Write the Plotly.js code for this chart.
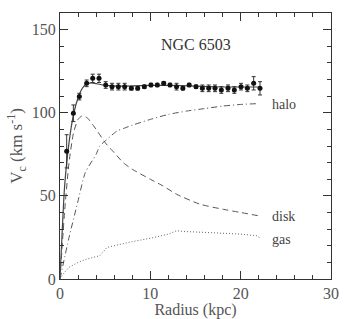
<!DOCTYPE html>
<html><head><meta charset="utf-8">
<script src="https://cdn.plot.ly/plotly-3.0.1.min.js"></script>
<style>body{margin:0;background:#fff}#c{width:354px;height:319px}</style>
</head><body><div id="c"></div>
<script>
const obsR = [0.74,1.48,2.14,2.95,3.62,4.32,5.06,5.76,6.46,7.16,7.9,8.6,9.34,10.07,10.77,11.48,12.18,12.9,13.6,14.3,15.06,15.76,16.46,17.16,17.86,18.6,19.3,20.04,20.74,21.44,22.14];
const obsV = [76.8,99.7,109.7,117.7,120.7,120.7,116.7,115.7,115.7,115.7,114.7,114.7,115.7,116.7,116.7,117.7,116.7,115.7,114.7,116.7,115.7,114.7,114.7,114.7,113.7,114.7,113.7,115.7,114.7,117.7,114.7];
const obsErr = [10,5,2,2,2.5,2.5,2,2,2,2,1,1,1,1,1,1,1,2,1,1,1,2,2,2,2,2,2,2,2,4,4];
const fitR = [0,0.5,1,1.5,2,2.5,3,3.5,4,5,7,10,12,15,18,20,22.2];
const fitV = [0,55,82,99,109,115,117.5,118,117.5,116.5,116,116.5,116.5,116,115.5,115.5,115.5];
const diskR = [0,0.5,1,1.5,2,2.4,3,4,5,6,7,8,10,11.4,12.9,15.5,18,20,22];
const diskV = [0,40,70,88,96,98,97,90,82,76,70,66,60,56,51,45,42,40,38];
const haloR = [0,1,2,2.8,4,4.4,5,6.3,7,8,10,12,14,16,18,20,22];
const haloV = [0,25,47,64,75,80,83,89,90.5,92.5,96,99,101,102.5,104,105,105.5];
const gasR = [0,0.5,1,2,3,4,4.4,5.2,6,8,10,12,12.9,14,16.2,18,20,21.8,22.2];
const gasV = [0,4,7,10,12,13.5,14,19,20,22.5,24.5,27,29,28.5,28,27.5,27,26,24.5];
const labels = ['halo','disk','gas'];
const labelY = [105,37.5,24];
const title = 'NGC 6503';

const dark = '#333';
const FONT = 'Liberation Serif, DejaVu Serif, serif';
const traces = [
 {x:fitR,y:fitV,mode:'lines',line:{color:'#444',width:1.2,shape:'spline',smoothing:0.5}},
 {x:diskR,y:diskV,mode:'lines',line:{color:'#555',width:1,dash:'6px,4px',shape:'spline',smoothing:0.6}},
 {x:haloR,y:haloV,mode:'lines',line:{color:'#555',width:1,dash:'6px,3px,1px,3px',shape:'spline',smoothing:0.6}},
 {x:gasR,y:gasV,mode:'lines',line:{color:'#666',width:1,dash:'1px,2px'}},
 {x:obsR,y:obsV,mode:'markers',marker:{color:'#111',size:5,symbol:'circle'},
  error_y:{type:'data',array:obsErr,visible:true,color:'#333',thickness:1,width:2}}
];
const ann = labels.map((t,i)=>({x:23.3,y:labelY[i],text:t,showarrow:false,xanchor:'left',yanchor:'middle',
  font:{family:FONT,size:14,color:'#444'}}));
ann.push({x:15,y:141,text:title,showarrow:false,xanchor:'center',yanchor:'middle',
  font:{family:FONT,size:16,color:'#333'}});
const axisCommon = {showgrid:false,zeroline:false,showline:true,linecolor:dark,linewidth:1,mirror:'allticks',
  ticks:'inside',tickcolor:dark,tickfont:{family:FONT,size:16,color:'#555'}};
const layout = {
 width:354,height:319,margin:{l:60,r:23,t:13,b:40},showlegend:false,
 paper_bgcolor:'#fff',plot_bgcolor:'#fff',
 xaxis:Object.assign({},axisCommon,{range:[0,30],tickvals:[0,10,20,30],ticklen:8,ticklabelstandoff:0,
   minor:{tickvals:[2,4,6,8,12,14,16,18,22,24,26,28],ticklen:4,tickcolor:dark,ticks:'inside'},
   title:{text:'Radius (kpc)',standoff:1,font:{family:FONT,size:16,color:'#555'}}}),
 yaxis:Object.assign({},axisCommon,{range:[0,160],tickvals:[0,50,100,150],ticklen:8,
   minor:{tickvals:[10,20,30,40,60,70,80,90,110,120,130,140],ticklen:4,tickcolor:dark,ticks:'inside'},
   title:{text:'V<sub>c</sub> (km s<sup>-1</sup>)',standoff:4,font:{family:FONT,size:17,color:'#555'}}}),
 annotations:ann
};
Plotly.newPlot('c',traces,layout,{staticPlot:true,displayModeBar:false});
</script></body></html>
